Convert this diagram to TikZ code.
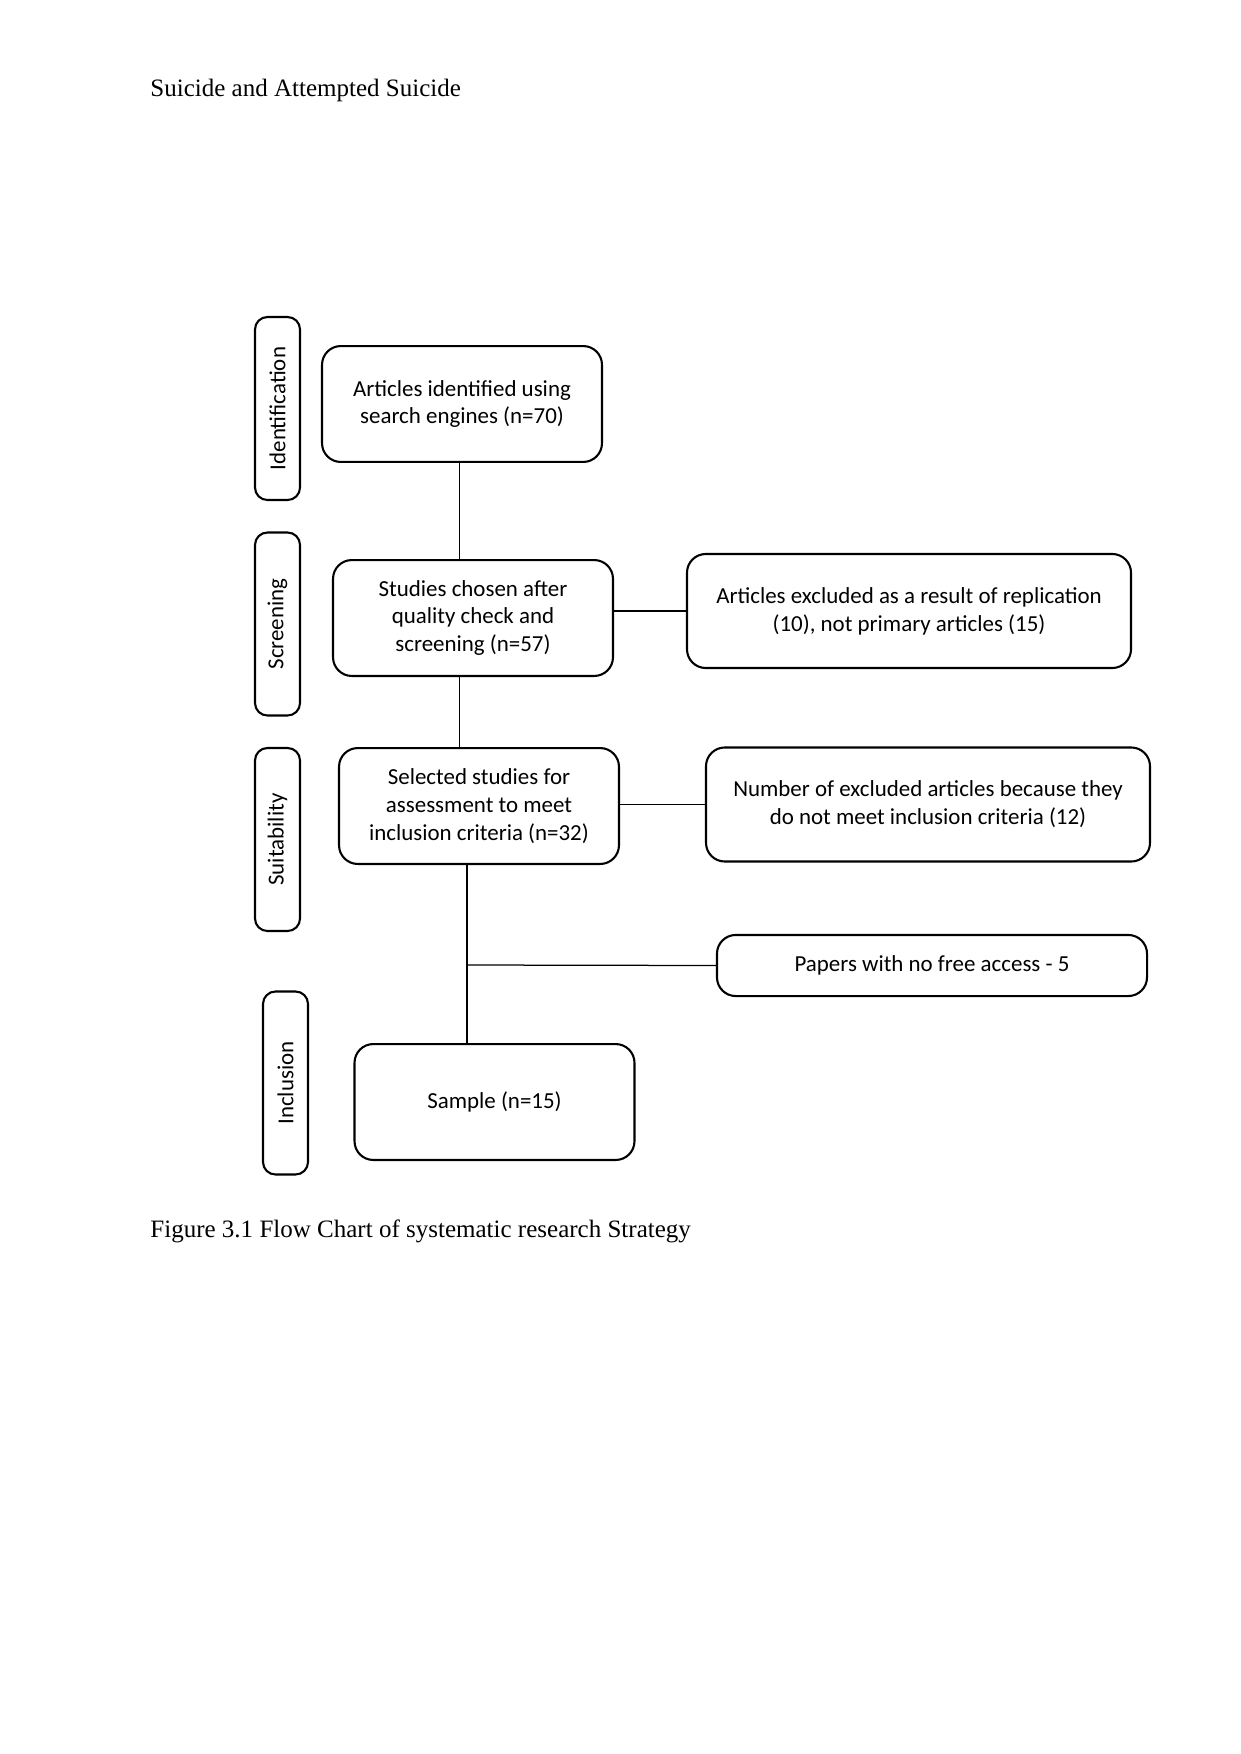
\documentclass[tikz,border=0pt]{standalone}
\usepackage{fontspec}
\setmainfont{Liberation Serif}
\newfontfamily\boxfont{Carlito}
\usetikzlibrary{calc}

\begin{document}
\begin{tikzpicture}[x=0.4797pt, y=-0.4797pt,
  stage/.style={draw, line width=1pt, rounded corners=9pt, minimum width=134.3pt, minimum height=55.6pt, inner sep=0pt, align=center, font=\boxfont\fontsize{11}{13.4}\selectfont},
  excl/.style={stage, minimum width=213pt, minimum height=54.7pt},
  phase/.style={draw, line width=1pt, rounded corners=6pt, minimum width=87.8pt, minimum height=21.6pt, inner sep=0pt, rotate=90, font=\boxfont\fontsize{11}{13}\selectfont},
  link/.style={line width=0.6pt},
  page/.style={anchor=base west, inner sep=0pt, font=\fontsize{12}{14}\selectfont}]
\useasboundingbox (0,0) rectangle (1241,1754);

\node[page] (header) at (150,97) {Suicide and Attempted Suicide};

\node[phase] (tabident) at (277.5,408.5) {Identification};
\node[phase] (tabscreen) at (277.5,624) {Screening};
\node[phase] (tabsuit) at (277.5,839.5) {Suitability};
\node[phase] (tabincl) at (285.5,1083) {Inclusion};

\node[stage] (ident) at (462,404) {Articles identified using\\search engines (n=70)};
\node[stage] (screen) at (473,618) {Studies chosen after\\quality check and\\screening (n=57)};
\node[stage] (suit) at (479,806) {Selected studies for\\assessment to meet\\inclusion criteria (n=32)};
\node[stage] (sample) at (494.5,1102) {Sample (n=15)};

\node[excl] (replic) at (909,611) {Articles excluded as a result of replication\\(10), not primary articles (15)};
\node[excl] (notmet) at (928,804.5) {Number of excluded articles because they\\do not meet inclusion criteria (12)};
\node[excl, minimum width=206.3pt, minimum height=29.3pt] (noaccess) at (932,965.5) {Papers with no free access - 5};

\coordinate (spine) at (459.5,600);
\coordinate (split) at (467,965);

\draw[link] (spine |- ident.south) -- (spine |- screen.north);
\draw[link] (spine |- screen.south) -- (spine |- suit.north);
\draw[link] (screen.east |- replic.west) -- (replic.west);
\draw[link] (suit.east |- notmet.west) -- (notmet.west);
\draw[link] (split |- suit.south) -- (split |- sample.north);
\draw[link] (split) -- (noaccess.west);

\node[page] (caption) at (150,1237) {Figure 3.1 Flow Chart of systematic research Strategy};
\end{tikzpicture}
\end{document}
